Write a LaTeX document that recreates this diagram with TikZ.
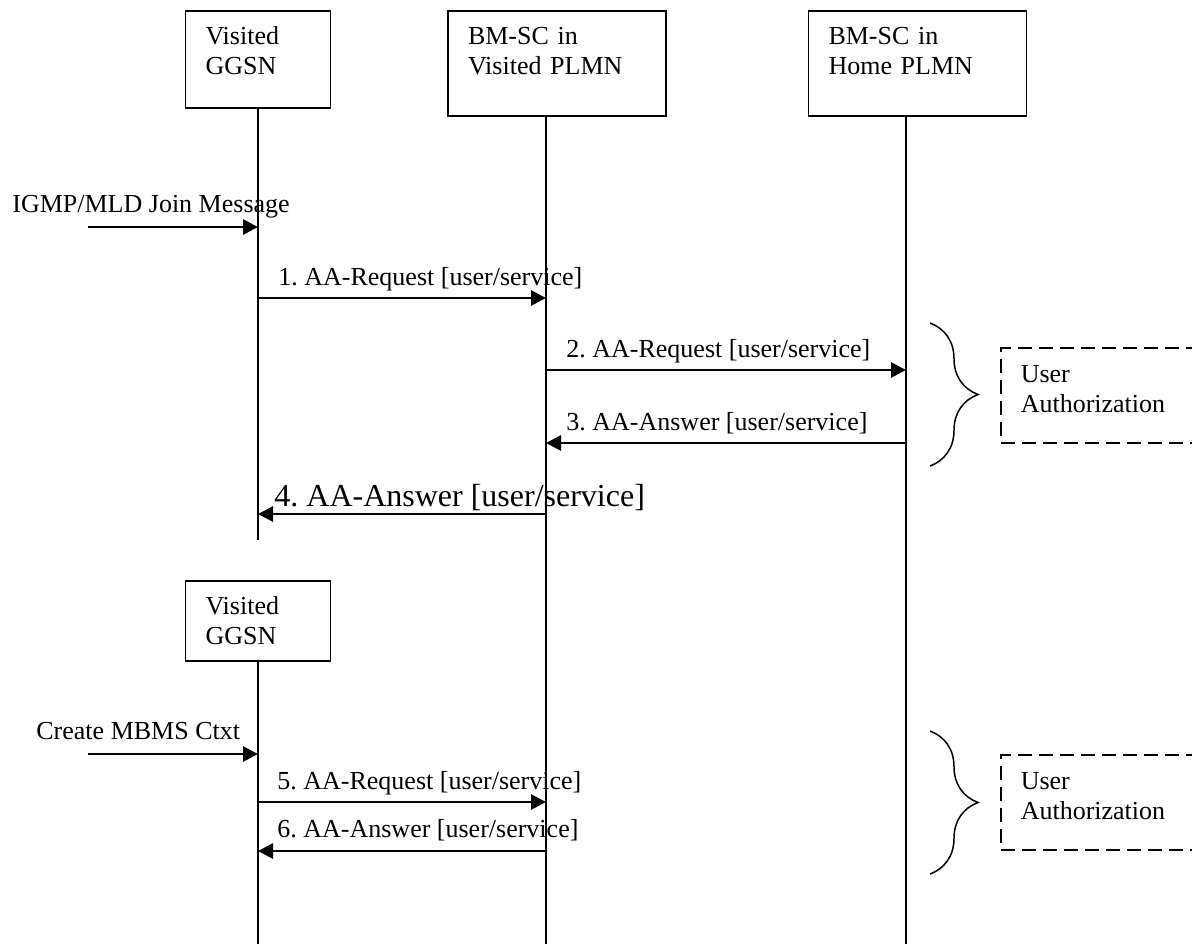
\documentclass[tikz,border=0pt]{standalone}
\usepackage{fontspec}
\setmainfont{Liberation Serif}
\frenchspacing
\usetikzlibrary{arrows.meta,positioning,calc,decorations.pathreplacing}
\tikzset{
  lane style/.style={rectangle, draw, line width=0.8pt, align=left, anchor=north,
    inner xsep=10pt, inner ysep=8pt, text height=9pt, font=\fontsize{13}{15}\selectfont},
  life style/.style={line width=0.75pt},
  msg style/.style={-{Triangle[length=7.5pt,width=7.5pt]}, line width=1.4pt},
  lbl style/.style={anchor=base west, inner sep=0pt, font=\fontsize{13}{15}\selectfont},
  note style/.style={rectangle, draw, dash pattern=on 7pt off 3.5pt, line width=0.75pt,
    align=left, anchor=north west, text width=90pt, inner xsep=10pt, inner ysep=8.5pt,
    text height=9pt, text depth=21.5pt, font=\fontsize{13}{15}\selectfont},
  brace style/.style={decorate, decoration={brace, amplitude=24pt}, line width=0.75pt}
}

\begin{document}
\begin{tikzpicture}[x=0.5pt, y=-0.5pt]

\useasboundingbox (0,0) rectangle (1192,944);
\clip (0,0) rectangle (1192,944);

% entities
\node[lane style, text width=52.5pt, text depth=23.5pt] (ggsn) at (258,10) {Visited\\GGSN};
\node[lane style, text width=89pt, text depth=27.5pt] (bmv) at (557,10) {BM-SC in\\Visited PLMN};
\node[lane style, text width=89pt, text depth=27.5pt] (bmh) at (917.5,10) {BM-SC in\\Home PLMN};
\node[lane style, text width=52.5pt, text depth=15pt] (ggsnb) at (258,580) {Visited\\GGSN};

\coordinate (ggsnend) at (258,540);
\coordinate (bmvend) at (546,944);
\coordinate (bmhend) at (906,944);
\coordinate (ggsnbend) at (258,944);

\draw[life style] (ggsn.south) -- (ggsnend);
\draw[life style] (bmvend |- bmv.south) -- (bmvend);
\draw[life style] (bmhend |- bmh.south) -- (bmhend);
\draw[life style] (ggsnb.south) -- (ggsnbend);

% first sequence
\coordinate (joinsrc) at (88,227);
\node[lbl style] (joinlbl) at (12,212) {IGMP/MLD Join Message};
\draw[msg style] (joinsrc) -- (ggsnend |- joinsrc);

\node[lbl style] (m1) at (278,285) {1. AA-Request [user/service]};
\draw[msg style] (ggsnend |- 0,298) -- (bmvend |- 0,298);

\node[lbl style] (m2) at (566,357) {2. AA-Request [user/service]};
\draw[msg style] (bmvend |- 0,370) -- (bmhend |- 0,370);

\node[lbl style] (m3) at (566,430) {3. AA-Answer [user/service]};
\draw[msg style] (bmhend |- 0,443) -- (bmvend |- 0,443);

\node[lbl style, font=\fontsize{16}{18}\selectfont] (m4) at (274,506) {4. AA-Answer [user/service]};
\draw[msg style] (bmvend |- 0,514) -- (ggsnend |- 0,514);

\draw[brace style] (930,323) -- (930,466);
\node[note style] (auth1) at (1000,347) {User\\Authorization};

% second sequence
\coordinate (ctxsrc) at (88,754);
\node[lbl style] (ctxlbl) at (36,739) {Create MBMS Ctxt};
\draw[msg style] (ctxsrc) -- (ggsnbend |- ctxsrc);

\node[lbl style] (m5) at (277,789) {5. AA-Request [user/service]};
\draw[msg style] (ggsnbend |- 0,802) -- (bmvend |- 0,802);

\node[lbl style] (m6) at (277,837) {6. AA-Answer [user/service]};
\draw[msg style] (bmvend |- 0,851) -- (ggsnbend |- 0,851);

\draw[brace style] (930,731) -- (930,874);
\node[note style] (auth2) at (1000,754) {User\\Authorization};

\end{tikzpicture}
\end{document}
